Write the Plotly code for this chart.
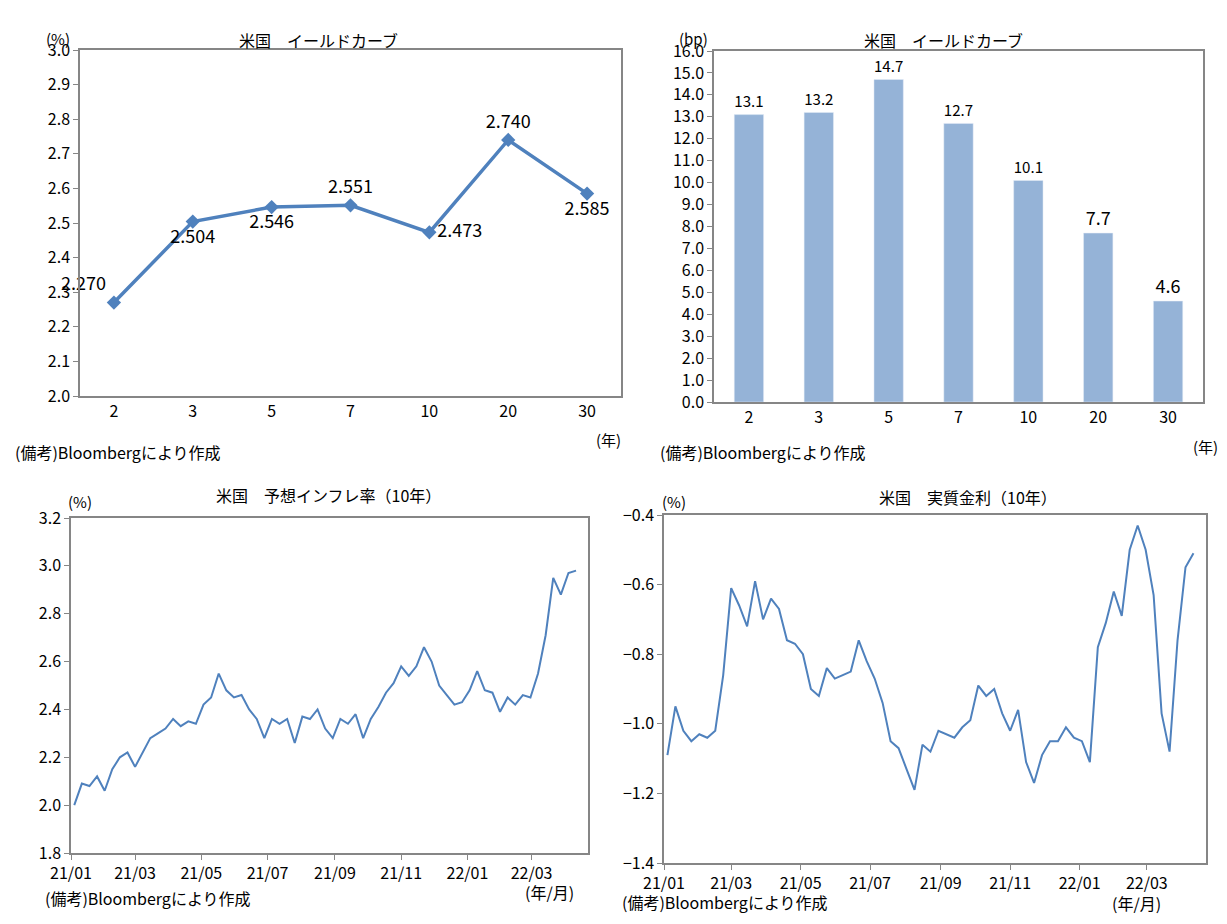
import plotly.graph_objects as go
import pandas as pd

# 米国 イールドカーブ
maturities = ["2", "3", "5", "7", "10", "20", "30"]
yields = [2.270, 2.504, 2.546, 2.551, 2.473, 2.740, 2.585]
yield_pos = ["top left", "bottom center", "bottom center", "top center",
             "middle right", "top center", "bottom center"]
change_bp = [13.1, 13.2, 14.7, 12.7, 10.1, 7.7, 4.6]

# weekly readings, 2021/01 - 2022/04
bei = [2.00, 2.09, 2.08, 2.12, 2.06, 2.15, 2.20, 2.22, 2.16, 2.22, 2.28, 2.30,
       2.32, 2.36, 2.33, 2.35, 2.34, 2.42, 2.45, 2.55, 2.48, 2.45, 2.46, 2.40,
       2.36, 2.28, 2.36, 2.34, 2.36, 2.26, 2.37, 2.36, 2.40, 2.32, 2.28, 2.36,
       2.34, 2.38, 2.28, 2.36, 2.41, 2.47, 2.51, 2.58, 2.54, 2.58, 2.66, 2.60,
       2.50, 2.46, 2.42, 2.43, 2.48, 2.56, 2.48, 2.47, 2.39, 2.45, 2.42, 2.46,
       2.45, 2.55, 2.71, 2.95, 2.88, 2.97, 2.98]
real = [-1.09, -0.95, -1.02, -1.05, -1.03, -1.04, -1.02, -0.86, -0.61, -0.66,
        -0.72, -0.59, -0.70, -0.64, -0.67, -0.76, -0.77, -0.80, -0.90, -0.92,
        -0.84, -0.87, -0.86, -0.85, -0.76, -0.82, -0.87, -0.94, -1.05, -1.07,
        -1.13, -1.19, -1.06, -1.08, -1.02, -1.03, -1.04, -1.01, -0.99, -0.89,
        -0.92, -0.90, -0.97, -1.02, -0.96, -1.11, -1.17, -1.09, -1.05, -1.05,
        -1.01, -1.04, -1.05, -1.11, -0.78, -0.71, -0.62, -0.69, -0.50, -0.43,
        -0.50, -0.63, -0.97, -1.08, -0.76, -0.55, -0.51]
dates = pd.date_range("2021-01-04", periods=len(bei), freq="7D")

W, H = 1227, 924
FONT = "Noto Sans CJK JP"
BLUE = "#4F81BD"
GREY = "#868686"

def dom(a, b):
    return [a / W, b / W]

def ydom(top, bottom):
    return [1 - bottom / H, 1 - top / H]

fig = go.Figure()
fig.add_trace(go.Scatter(x=maturities, y=yields, mode="lines+markers+text",
                         line=dict(color=BLUE, width=3.5),
                         marker=dict(symbol="diamond", size=11, color=BLUE),
                         text=[f"{v:.3f}" for v in yields], textposition=yield_pos,
                         textfont=dict(size=18, color="black"), cliponaxis=False,
                         xaxis="x", yaxis="y"))
fig.add_trace(go.Bar(x=maturities, y=change_bp, marker_color="#95B3D7", width=0.42,
                     text=[f"{v:.1f}" for v in change_bp], textposition="outside",
                     textfont=dict(size=18, color="black"), cliponaxis=False,
                     xaxis="x2", yaxis="y2"))
fig.add_trace(go.Scatter(x=dates, y=bei, mode="lines", line=dict(color=BLUE, width=2),
                         xaxis="x3", yaxis="y3"))
fig.add_trace(go.Scatter(x=dates, y=real, mode="lines", line=dict(color=BLUE, width=2),
                         xaxis="x4", yaxis="y4"))

ax = dict(showline=True, linecolor=GREY, linewidth=1.5, mirror=True, showgrid=False,
          ticks="outside", ticklen=5, tickcolor=GREY, zeroline=False,
          tickfont=dict(size=16, family=FONT, color="black"))

fig.update_layout(
    width=W, height=H, margin=dict(l=0, r=0, t=0, b=0, autoexpand=False), showlegend=False,
    plot_bgcolor="white", paper_bgcolor="white", font=dict(family=FONT, color="black"),
    xaxis=dict(ax, domain=dom(72, 613), type="category", ticks="", anchor="y"),
    yaxis=dict(ax, domain=ydom(42, 388), range=[2.0, 3.0], dtick=0.1, tickformat=".1f", anchor="x"),
    xaxis2=dict(ax, domain=dom(706, 1195), type="category", ticks="", anchor="y2"),
    yaxis2=dict(ax, domain=ydom(43, 394), range=[0, 16], dtick=1, tickformat=".1f", anchor="x2"),
    xaxis3=dict(ax, domain=dom(63, 580), range=["2021-01-01", "2022-04-22"],
                tick0="2021-01-01", dtick="M2", tickformat="%y/%m", anchor="y3"),
    yaxis3=dict(ax, domain=ydom(510, 845), range=[1.8, 3.2], dtick=0.2, tickformat=".1f", anchor="x3"),
    xaxis4=dict(ax, domain=dom(656, 1198), range=["2021-01-01", "2022-04-22"],
                tick0="2021-01-01", dtick="M2", tickformat="%y/%m", anchor="y4"),
    yaxis4=dict(ax, domain=ydom(507, 855), range=[-1.4, -0.4], dtick=0.2, tickformat=".1f", anchor="x4"),
)

# (x, y, text, size, anchor)
notes = [
    (310, 18, "米国　イールドカーブ", 16, "center"),
    (935, 18, "米国　イールドカーブ", 16, "center"),
    (320, 487, "米国　予想インフレ率（10年）", 16, "center"),
    (960, 489, "米国　実質金利（10年）", 16, "center"),
    (50, 18, "(%)", 15, "center"), (685, 18, "(bp)", 15, "center"),
    (72, 493, "(%)", 15, "center"), (666, 493, "(%)", 15, "center"),
    (600, 432, "(年)", 15, "center"), (1197, 438, "(年)", 15, "center"),
    (541, 898, "(年/月)", 16, "center"), (1128, 909, "(年/月)", 16, "center"),
    (5, 444, "(備考)Bloombergにより作成", 16, "left"),
    (650, 444, "(備考)Bloombergにより作成", 16, "left"),
    (35, 904, "(備考)Bloombergにより作成", 16, "left"),
    (612, 908, "(備考)Bloombergにより作成", 16, "left"),
]
for x, y, t, s, a in notes:
    fig.add_annotation(x=x / W, y=1 - y / H, xref="paper", yref="paper", text=t,
                       xanchor=a, showarrow=False,
                       font=dict(size=s, family=FONT, color="black"))

fig.write_html("out.html")
